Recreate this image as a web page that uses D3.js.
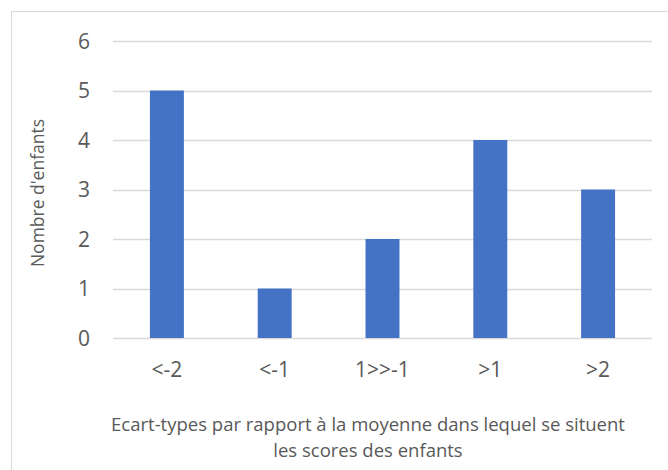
<!DOCTYPE html>
<html>
<head>
<meta charset="utf-8">
<script src="https://d3js.org/d3.v7.min.js"></script>
<style>
  body { margin: 0; background: #fff; }
  svg text { font-family: "Open Sans", sans-serif; fill: #595959; }
</style>
</head>
<body>
<svg class="canvas"></svg>
<script>
var categories = ['<-2', '<-1', '1>>-1', '>1', '>2']
var counts = [5, 1, 2, 4, 3]
var yTicks = [0, 1, 2, 3, 4, 5, 6]

var width = 668
var height = 470
var margin = { top: 41, right: 16, bottom: 132, left: 113 }

var svg = d3.select('.canvas')
    .attr('width', width)
    .attr('height', height)

// chart frame
svg.append('rect')
    .attr('x', 11.5).attr('y', 11.5)
    .attr('width', width).attr('height', height)
    .attr('fill', 'none')
    .attr('stroke', '#d9d9d9')

var x = d3.scaleBand()
    .domain(categories)
    .range([margin.left, width - margin.right])
    .padding(0)

var y = d3.scaleLinear()
    .domain([0, 6])
    .range([height - margin.bottom, margin.top])

var barW = x.bandwidth() * 0.315

// gridlines
svg.append('g')
    .selectAll('line')
    .data(yTicks)
    .join('line')
    .attr('x1', margin.left)
    .attr('x2', width - margin.right)
    .attr('y1', d => Math.round(y(d)) + 0.5)
    .attr('y2', d => Math.round(y(d)) + 0.5)
    .attr('stroke', '#d9d9d9')
    .attr('stroke-width', 1.5)

// bars
svg.append('g')
    .selectAll('rect')
    .data(counts)
    .join('rect')
    .attr('x', (d, i) => x(categories[i]) + x.bandwidth() / 2 - barW / 2)
    .attr('y', d => y(d))
    .attr('width', barW)
    .attr('height', d => y(0) - y(d))
    .attr('fill', '#4472c4')

// y tick labels
svg.append('g')
    .selectAll('text')
    .data(yTicks)
    .join('text')
    .attr('x', 90)
    .attr('y', d => y(d))
    .attr('dy', '0.36em')
    .attr('text-anchor', 'end')
    .style('font-size', '21px')
    .text(d => d)

// category labels
svg.append('g')
    .selectAll('text')
    .data(categories)
    .join('text')
    .attr('x', d => x(d) + x.bandwidth() / 2)
    .attr('y', 377)
    .attr('text-anchor', 'middle')
    .style('font-size', '21px')
    .text(d => d)

// axis titles
var xt = svg.append('text')
    .attr('text-anchor', 'middle')
    .style('font-size', '18.5px')
xt.append('tspan').attr('x', 368).attr('y', 431)
    .text('Ecart-types par rapport à la moyenne dans lequel se situent')
xt.append('tspan').attr('x', 368).attr('y', 457)
    .text('les scores des enfants')

svg.append('text')
    .attr('transform', 'translate(44,193) rotate(-90)')
    .attr('text-anchor', 'middle')
    .style('font-size', '17.5px')
    .text("Nombre d'enfants")
</script>
</body>
</html>
